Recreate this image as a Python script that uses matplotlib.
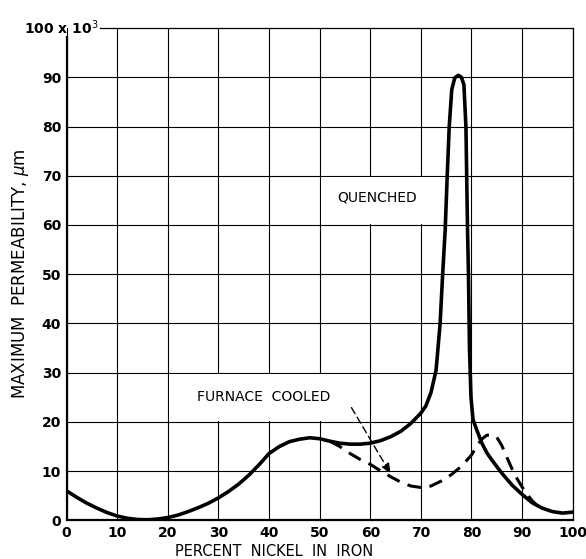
import matplotlib
matplotlib.use('Agg')
from matplotlib import pyplot as plt
from matplotlib.patches import Rectangle

# percent nickel / max permeability (x 10^3)
quenched_x = [0, 2, 4, 6, 8, 10, 12, 14, 16, 18, 20, 22, 24, 26, 28, 30, 32, 34, 36, 38,
              40, 42, 44, 46, 48, 50, 52, 54, 56, 58, 60, 62, 64, 66, 68, 70, 71, 72, 73,
              73.8, 74.3, 74.8, 75.2, 75.6, 76.1, 76.7, 77.4, 78.0, 78.5, 78.9, 79.05,
              79.2, 79.4, 79.6, 79.9, 80.3, 81, 82, 83, 84, 86, 88, 90, 92, 94, 96, 98, 100]
quenched_y = [6.0, 4.7, 3.5, 2.5, 1.6, 0.9, 0.45, 0.2, 0.15, 0.3, 0.6, 1.1, 1.8, 2.6, 3.5,
              4.6, 5.9, 7.4, 9.2, 11.3, 13.6, 15.0, 16.0, 16.5, 16.8, 16.6, 16.1, 15.7, 15.5,
              15.5, 15.7, 16.2, 17.0, 18.1, 19.7, 21.8, 23.3, 26.0, 30.5, 40, 50, 59, 70, 80,
              87.5, 89.9, 90.4, 90.0, 88.5, 80, 70, 60, 50, 35, 25, 20.5, 18.5, 15.8, 13.8,
              12.3, 9.6, 7.2, 5.3, 3.6, 2.5, 1.8, 1.5, 1.7]

furnace_x = [52, 54, 56, 58, 60, 62, 64, 66, 68, 70, 72, 74, 76, 78, 80, 81, 82, 83, 84,
             85, 86, 87, 88, 89, 90, 91, 92, 93, 94]
furnace_y = [16.1, 15.0, 13.6, 12.4, 11.4, 10.1, 8.9, 7.8, 7.0, 6.7, 7.0, 8.0, 9.3, 11.0,
             13.3, 15.0, 16.5, 17.3, 17.4, 16.9, 15.2, 12.8, 10.5, 8.5, 6.8, 5.3, 4.0, 3.0,
             2.4]

x_ticks = [0, 10, 20, 30, 40, 50, 60, 70, 80, 90, 100]
y_ticks = [0, 10, 20, 30, 40, 50, 60, 70, 80, 90]

plt.rcParams['font.family'] = ['DejaVu Sans']

fig = plt.figure(figsize=(5.86, 5.59), dpi=100)
ax = fig.add_axes([0.1138, 0.0689, 0.8635, 0.8810])
ax.set_xlim(0, 100)
ax.set_ylim(0, 100)

ax.set_xticks(x_ticks)
ax.set_yticks(y_ticks)
ax.tick_params(length=0, labelsize=10, pad=4)
for lab in ax.get_xticklabels() + ax.get_yticklabels():
    lab.set_fontweight('bold')
ax.grid(True, color='black', linewidth=0.8)
ax.set_axisbelow(True)
# top gridline at 100 drawn by the spine
for s in ['top', 'right']:
    ax.spines[s].set_linewidth(0.9)
for s in ['left', 'bottom']:
    ax.spines[s].set_linewidth(1.6)
ax.spines['left'].set_bounds(0, 98.2)
ax.spines['top'].set_bounds(6.6, 100)

ax.text(6.2, 100, '100 x 10$^3$', ha='right', va='center', fontsize=10,
        fontweight='bold')

# white boxes behind the labels, hiding grid lines
ax.add_patch(Rectangle((20.25, 20.25), 39.5, 9.5, facecolor='white', edgecolor='none',
                       zorder=1.5))
ax.add_patch(Rectangle((50.25, 60.25), 24, 9.5, facecolor='white', edgecolor='none',
                       zorder=1.5))

ax.plot(quenched_x, quenched_y, color='black', linewidth=2.6, solid_capstyle='round',
        zorder=3)
ax.plot(furnace_x, furnace_y, color='black', linewidth=2.2, linestyle=(0, (4.5, 2.8)),
        zorder=3)

ax.text(61.4, 65.5, 'QUENCHED', ha='center', va='center', fontsize=10, zorder=4)
ax.text(39.0, 25.1, 'FURNACE  COOLED', ha='center', va='center', fontsize=10, zorder=4)
ax.annotate('', xy=(64.3, 9.0), xytext=(56.0, 23.4),
            arrowprops=dict(arrowstyle='-|>,head_length=0.6,head_width=0.25',
                            color='black', lw=1.0, linestyle=(0, (5, 3))),
            zorder=4)

ax.set_xlabel('PERCENT  NICKEL  IN  IRON', fontsize=10.5, va='baseline')
ax.xaxis.set_label_coords(0.41, -0.073)
ax.set_ylabel('MAXIMUM  PERMEABILITY, $\\mu$m', fontsize=12, labelpad=8)

plt.savefig('out.png', dpi=100)
